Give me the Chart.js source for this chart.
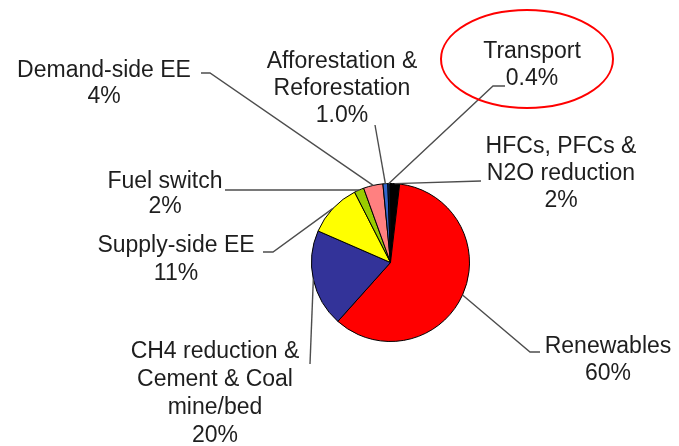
<!DOCTYPE html>
<html>
<head>
<meta charset="utf-8">
<script src="https://cdn.jsdelivr.net/npm/chart.js@4.4.0/dist/chart.umd.min.js"></script>
<style>
  html, body { margin: 0; padding: 0; background: #fff; }
  canvas { display: block; }
</style>
</head>
<body>
<canvas id="pieChart" width="679" height="446"></canvas>
<script>
// slices, clockwise from 12 o'clock
const categories = [
    ['HFCs, PFCs &', 'N2O reduction'],
    ['Renewables'],
    ['CH4 reduction &', 'Cement & Coal', 'mine/bed'],
    ['Supply-side EE'],
    ['Fuel switch'],
    ['Demand-side EE'],
    ['Afforestation &', 'Reforestation'],
    ['Transport']
];
const shares = [2, 60, 20, 11, 2, 4, 1.0, 0.4];
const sliceColors = ['#000000', '#ff0000', '#333399', '#ffff00', '#99cc00', '#ff8080', '#3366cc', '#0a2a66'];

// where each label sits: text centre x, first baseline y, leader bend points
const labelLayout = [
    { cx: 561, y: 153, gap: 27, path: [[481, 181]] },
    { cx: 608, y: 353, gap: 27, path: [[530, 352], [540, 352]] },
    { cx: 215, y: 358, gap: 28, path: [[310, 364]] },
    { cx: 176, y: 252, gap: 28, path: [[273, 252], [263, 252]] },
    { cx: 165, y: 188, gap: 25, path: [[355, 190], [225, 190]] },
    { cx: 104, y: 77, gap: 26, path: [[210, 73], [201, 73]] },
    { cx: 342, y: 68, gap: 27, path: [[375, 125]] },
    { cx: 532, y: 58, gap: 27, path: [[493, 86], [505, 86]] }
];

function pctText(v) {
    return (v < 1.5 ? v.toFixed(1) : v.toFixed(0)) + '%';
}

const labelPlugin = {
    id: 'leaderLabels',
    afterDatasetsDraw(chart) {
        const ctx = chart.ctx;
        const arcs = chart.getDatasetMeta(0).data;
        ctx.save();

        // leader lines
        ctx.strokeStyle = '#4d4d4d';
        ctx.lineWidth = 1.4;
        arcs.forEach((arc, i) => {
            const p = arc.getProps(['x', 'y', 'startAngle', 'endAngle', 'outerRadius'], true);
            const mid = (p.startAngle + p.endAngle) / 2;
            ctx.beginPath();
            ctx.moveTo(p.x + Math.cos(mid) * p.outerRadius, p.y + Math.sin(mid) * p.outerRadius);
            labelLayout[i].path.forEach(pt => ctx.lineTo(pt[0], pt[1]));
            ctx.stroke();
        });

        // texts
        ctx.fillStyle = '#1e1e1e';
        ctx.font = '23px "Liberation Sans", Arial, sans-serif';
        ctx.textAlign = 'center';
        ctx.textBaseline = 'alphabetic';
        categories.forEach((lines, i) => {
            const lay = labelLayout[i];
            const all = lines.concat([pctText(shares[i])]);
            all.forEach((t, k) => ctx.fillText(t, lay.cx, lay.y + k * lay.gap));
        });

        // red ring round the Transport label
        ctx.strokeStyle = '#ff0000';
        ctx.lineWidth = 2;
        ctx.beginPath();
        ctx.ellipse(527, 59, 86, 49, 0, 0, Math.PI * 2);
        ctx.stroke();
        ctx.restore();
    }
};

new Chart(document.getElementById('pieChart').getContext('2d'), {
    type: 'pie',
    data: {
        labels: categories.map(c => c.join(' ')),
        datasets: [{
            data: shares,
            backgroundColor: sliceColors,
            borderColor: '#000000',
            borderWidth: 1
        }]
    },
    options: {
        responsive: false,
        animation: false,
        rotation: -0.5,
        layout: { padding: { left: 311, right: 209, top: 183, bottom: 104 } },
        plugins: { legend: { display: false }, tooltip: { enabled: false } }
    },
    plugins: [labelPlugin]
});
</script>
</body>
</html>
